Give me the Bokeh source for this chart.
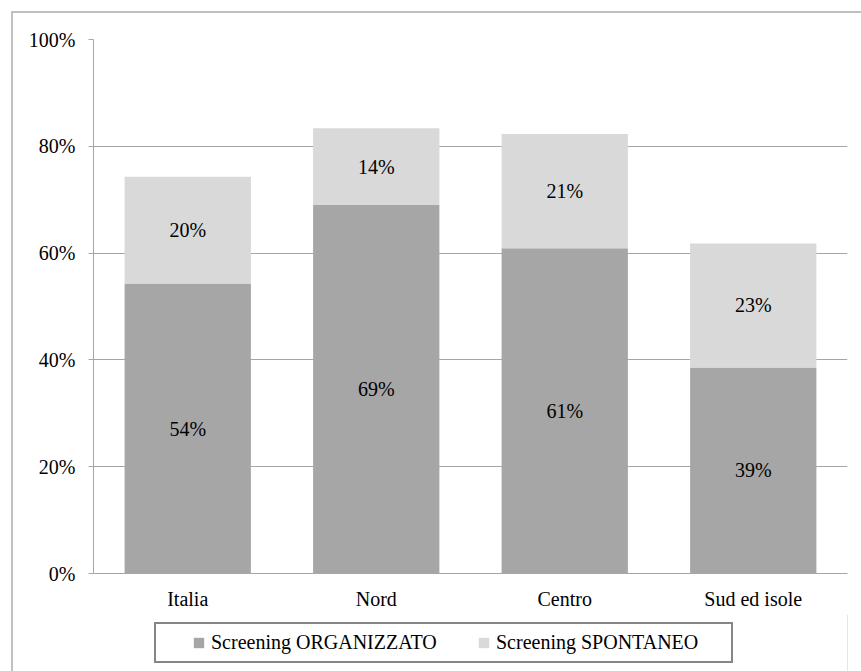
from bokeh.plotting import figure
from bokeh.layouts import column
from bokeh.models import (ColumnDataSource, FactorRange, Range1d, PrintfTickFormatter,
                          FixedTicker, Legend, InlineStyleSheet)
from bokeh.core.properties import value
from bokeh.embed import file_html
from bokeh.resources import INLINE

# Screening coverage by area (percent of target population)
areas = ["Italia", "Nord", "Centro", "Sud ed isole"]
organizzato = [54.3, 69.0, 60.9, 38.6]
spontaneo = [20.0, 14.4, 21.4, 23.2]
series_names = ["Screening ORGANIZZATO", "Screening SPONTANEO"]
y_ticks = [0, 20, 40, 60, 80, 100]

DARK = "#A6A6A6"
LIGHT = "#D9D9D9"
GRID = "#A6A6A6"
FONT = "Liberation Serif"

source = ColumnDataSource(dict(area=areas, org=organizzato, spo=spontaneo))

# ---- main chart -------------------------------------------------------
p = figure(
    x_range=FactorRange(*areas, range_padding=0),
    y_range=Range1d(0, 100),
    width=861, height=614,
    output_backend="svg", toolbar_location=None,
    min_border_left=93, min_border_right=14,
    min_border_top=39, min_border_bottom=41,
)
p.background_fill_color = "white"
p.border_fill_color = "white"
p.outline_line_color = None

p.vbar_stack(
    ["org", "spo"], x="area", width=0.67, source=source,
    color=[DARK, LIGHT], line_color=None,
)

# value labels centred in each segment
lab_x, lab_y, lab_t = [], [], []
for a, o, s in zip(areas, organizzato, spontaneo):
    lab_x += [a, a]
    lab_y += [o / 2, o + s / 2]
    lab_t += [f"{round(o)}%", f"{round(s)}%"]
p.text(x=lab_x, y=lab_y, text=lab_t,
       text_font=value(FONT), text_font_size=value("20px"),
       text_color="#000000", text_align="center", text_baseline="middle")

# axes
p.yaxis.ticker = FixedTicker(ticks=y_ticks)
p.yaxis.formatter = PrintfTickFormatter(format="%d%%")
p.yaxis.major_tick_in = 0
p.yaxis.major_tick_out = 5
p.yaxis.minor_tick_line_color = None
p.yaxis.major_label_standoff = 13
p.yaxis.axis_line_color = GRID
p.yaxis.major_tick_line_color = GRID

p.xaxis.major_tick_line_color = None
p.xaxis.minor_tick_line_color = None
p.xaxis.major_tick_out = 0
p.xaxis.major_tick_in = 0
p.xaxis.major_label_standoff = 14
p.xaxis.axis_line_color = GRID

for ax in (p.xaxis, p.yaxis):
    ax.major_label_text_font = FONT
    ax.major_label_text_font_size = "20px"
    ax.major_label_text_color = "#000000"

p.xgrid.grid_line_color = None
p.ygrid.grid_line_color = GRID
p.ygrid.grid_line_width = 1

# ---- legend strip -----------------------------------------------------
lg = figure(
    x_range=Range1d(0, 1), y_range=Range1d(0, 1),
    width=861, height=57,
    output_backend="svg", toolbar_location=None,
    x_axis_type=None, y_axis_type=None,
    min_border=0,
)
lg.outline_line_color = None
lg.grid.grid_line_color = None
lg.background_fill_color = "white"
lg.border_fill_color = "white"

# swatch renderers for the legend; their single bar lies outside the visible range
swatch_src = ColumnDataSource(dict(x=[5.0], top=[1.0]))
swatches = [lg.vbar(x="x", top="top", width=0.5, source=swatch_src, color=c, line_color=None)
            for c in (DARK, LIGHT)]

legend = Legend(
    items=[(series_names[0], [swatches[0]]), (series_names[1], [swatches[1]])],
    orientation="horizontal", location=(99, 17),
    glyph_width=13, glyph_height=13, label_standoff=6, spacing=13,
    label_width=253,
    padding=0, margin=0,
    border_line_color=None, background_fill_alpha=0,
    label_text_font=FONT, label_text_font_size="20px", label_text_color="#000000",
)
lg.add_layout(legend)

# chart-area border (top/left edges) and the legend frame, drawn as CSS boxes
frames_css = InlineStyleSheet(css="""
:host::before {
  content: ""; position: absolute; z-index: 20; pointer-events: none;
  left: 11px; top: 11px; width: 850px; height: 660px; box-sizing: border-box;
  border-top: 2px solid #C0C0C0; border-left: 2px solid #C0C0C0;
}
:host::after {
  content: ""; position: absolute; z-index: 20; pointer-events: none;
  left: 154px; top: 622px; width: 579px; height: 41px; box-sizing: border-box;
  border: 2px solid #868686;
}
""")
page = column(p, lg, spacing=0, stylesheets=[frames_css])

open("out.html", "w").write(file_html(page, INLINE))
